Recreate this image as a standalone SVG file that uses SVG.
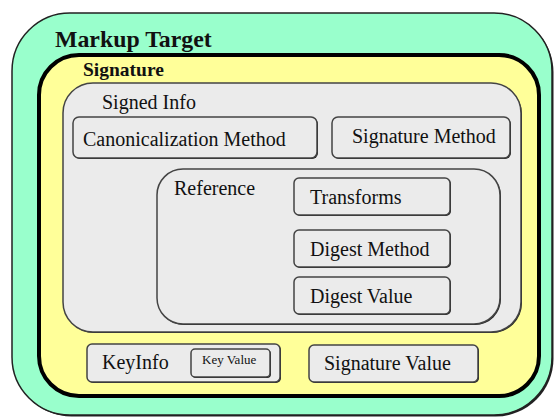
<svg xmlns="http://www.w3.org/2000/svg" width="554" height="418" viewBox="0 0 554 418">
  <style>
    text { font-family: "Liberation Serif", "Times New Roman", serif; fill: #111; }
    .lbl { font-size: 20px; }
    .bold { font-weight: bold; }
    .shadow { fill: #222; }
    .box { fill: #ebebeb; stroke: #444; stroke-width: 1.5; }
  </style>

  <!-- Markup Target -->
  <g id="markup-target">
    <rect x="13.5" y="14.5" width="540" height="402" rx="58" class="shadow"/>
    <rect x="12" y="13" width="540" height="402" rx="58" fill="#99ffcc" stroke="#222" stroke-width="1.5"/>
    <text x="55" y="47" class="bold" font-size="23.8">Markup Target</text>
  </g>

  <!-- Signature -->
  <g id="signature">
    <rect x="39" y="55" width="500" height="341" rx="40" fill="#ffff99" stroke="#000" stroke-width="4"/>
    <text x="83" y="76" class="bold" font-size="19.5">Signature</text>
  </g>

  <!-- Signed Info -->
  <g id="signed-info">
    <rect x="64" y="84" width="458" height="249" rx="30" class="shadow"/>
    <rect x="63" y="83" width="458" height="249" rx="30" class="box"/>
    <text x="102" y="109" class="lbl">Signed Info</text>
  </g>

  <g id="canonicalization-method">
    <rect x="74" y="118" width="244" height="41" rx="6" class="shadow"/>
    <rect x="73" y="117" width="244" height="41" rx="6" class="box"/>
    <text x="83" y="146" class="lbl">Canonicalization Method</text>
  </g>

  <g id="signature-method">
    <rect x="333" y="118" width="178" height="41" rx="6" class="shadow"/>
    <rect x="332" y="117" width="178" height="41" rx="6" class="box"/>
    <text x="352" y="143" class="lbl">Signature Method</text>
  </g>

  <!-- Reference -->
  <g id="reference">
    <rect x="158" y="170" width="343" height="155" rx="26" class="shadow"/>
    <rect x="157" y="169" width="343" height="155" rx="26" class="box"/>
    <text x="174" y="195" class="lbl">Reference</text>
  </g>

  <g id="transforms">
    <rect x="295" y="179" width="156" height="37" rx="5" class="shadow"/>
    <rect x="294" y="178" width="156" height="37" rx="5" class="box"/>
    <text x="310" y="204" class="lbl">Transforms</text>
  </g>

  <g id="digest-method">
    <rect x="295" y="231" width="156" height="37" rx="5" class="shadow"/>
    <rect x="294" y="230" width="156" height="37" rx="5" class="box"/>
    <text x="310" y="256" class="lbl">Digest Method</text>
  </g>

  <g id="digest-value">
    <rect x="295" y="278" width="156" height="37" rx="5" class="shadow"/>
    <rect x="294" y="277" width="156" height="37" rx="5" class="box"/>
    <text x="310" y="303" class="lbl">Digest Value</text>
  </g>

  <!-- KeyInfo -->
  <g id="key-info">
    <rect x="88" y="345" width="193" height="38" rx="5" class="shadow"/>
    <rect x="87" y="344" width="193" height="38" rx="5" class="box"/>
    <text x="102" y="369" class="lbl">KeyInfo</text>
  </g>

  <g id="key-value">
    <rect x="192" y="350" width="79" height="28" rx="4" class="shadow"/>
    <rect x="191" y="349" width="79" height="28" rx="4" class="box"/>
    <text x="202" y="364" font-size="13">Key Value</text>
  </g>

  <g id="signature-value">
    <rect x="310" y="346" width="169" height="37" rx="5" class="shadow"/>
    <rect x="309" y="345" width="169" height="37" rx="5" class="box"/>
    <text x="324" y="370" class="lbl">Signature Value</text>
  </g>

  <!-- no connectors in this figure -->
  <g id="connectors"/>
</svg>
